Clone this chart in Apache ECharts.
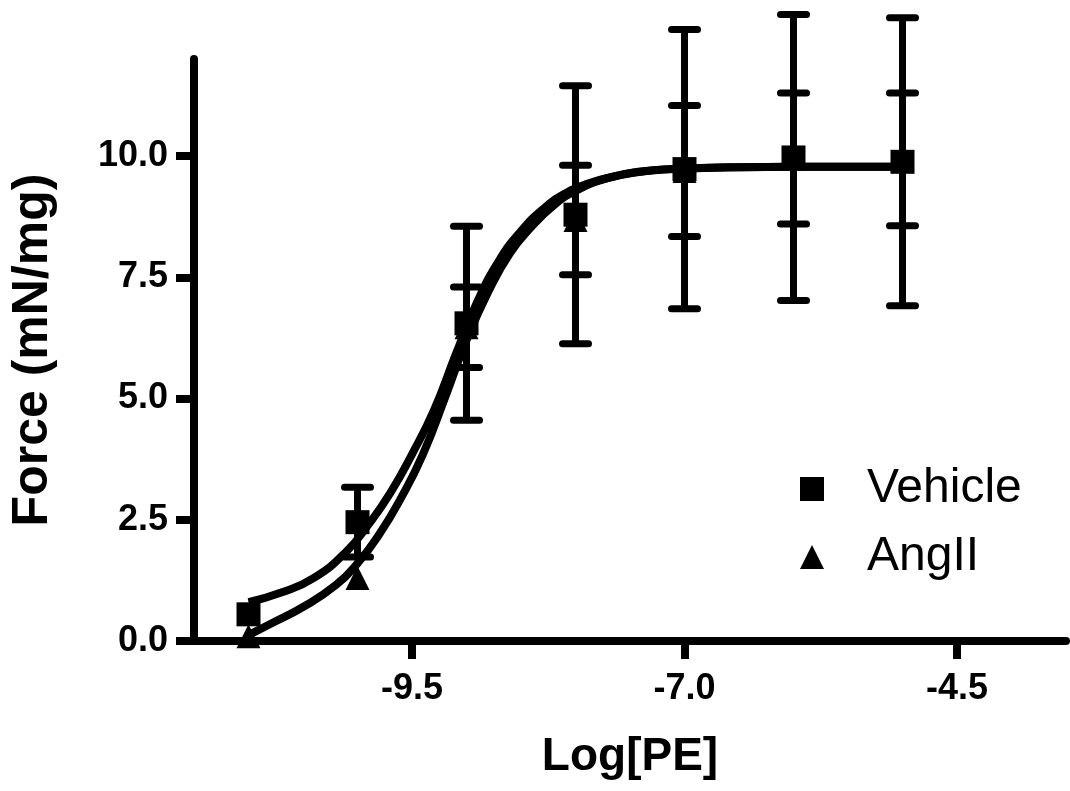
<!DOCTYPE html>
<html><head><meta charset="utf-8">
<script src="https://cdn.jsdelivr.net/npm/echarts@6/dist/echarts.min.js"></script>
<style>html,body{margin:0;padding:0;background:#fff}#c{width:1070px;height:791px}</style>
</head><body><div id="c"></div>
<script>
// Data
const logPE = [-11, -10, -9, -8, -7, -6, -5];
const vehicleMean = [0.55, 2.45, 6.55, 8.79, 9.73, 9.97, 9.88];
const vehicleSEM  = [0.00, 0.72, 2.00, 2.66, 2.88, 2.95, 2.97];
const angMean = [0.10, 1.30, 6.47, 8.68, 9.69, 9.95, 9.93];
const angSEM  = [0.00, 0.00, 0.83, 1.13, 1.35, 1.35, 1.37];
const vehicleFitX = [-11, -10.7, -10.4, -10.1, -9.9, -9.7, -9.5, -9.3, -9.1, -8.9, -8.7, -8.5, -8.3, -8.1, -7.9, -7.6, -7.3, -7.0, -6.5, -6.0, -5.5, -5.0];
const vehicleFitY = [0.80, 1.00, 1.30, 1.85, 2.40, 3.05, 3.85, 4.75, 5.90, 7.00, 7.85, 8.45, 8.90, 9.22, 9.42, 9.60, 9.70, 9.74, 9.77, 9.78, 9.78, 9.78];
const angFitX = [-11, -10.8, -10.5, -10.2, -10.0, -9.8, -9.6, -9.4, -9.2, -9.0, -8.8, -8.6, -8.4, -8.2, -8.0, -7.7, -7.4, -7.0, -6.5, -6.0, -5.5, -5.0];
const angFitY = [0.12, 0.35, 0.70, 1.15, 1.60, 2.20, 2.95, 3.85, 5.00, 6.20, 7.20, 8.00, 8.55, 8.98, 9.28, 9.55, 9.68, 9.74, 9.77, 9.78, 9.78, 9.78];
const xTickValues = [-9.5, -7.0, -4.5];
const yTickValues = [0, 2.5, 5, 7.5, 10];

const zip = (a, b) => a.map((v, i) => [v, b[i]]);
const errData = (m, s) => logPE.map((x, i) => [x, m[i] - s[i], m[i] + s[i]]);

function errRender(params, api) {
  const x = api.value(0), lo = api.value(1), hi = api.value(2);
  if (hi - lo <= 0) return { type: 'group', children: [] };
  const pLo = api.coord([x, lo]), pHi = api.coord([x, hi]);
  const cap = 13;
  const st = { stroke: '#000', lineWidth: 7, lineCap: 'round' };
  return { type: 'group', children: [
    { type: 'line', shape: { x1: pLo[0], y1: pLo[1], x2: pHi[0], y2: pHi[1] }, style: { stroke: '#000', lineWidth: 7 } },
    { type: 'line', shape: { x1: pHi[0] - cap, y1: pHi[1], x2: pHi[0] + cap, y2: pHi[1] }, style: st },
    { type: 'line', shape: { x1: pLo[0] - cap, y1: pLo[1], x2: pLo[0] + cap, y2: pLo[1] }, style: st }
  ]};
}

const FONT = "'Liberation Sans', Arial, sans-serif";
const chart = echarts.init(document.getElementById('c'), null, { renderer: 'canvas' });
chart.setOption({
  animation: false,
  backgroundColor: '#fff',
  grid: { left: 192, right: 4, top: 59, bottom: 150, containLabel: false },
  xAxis: {
    type: 'value', min: -11.5, max: -3.5,
    name: 'Log[PE]', nameLocation: 'middle', nameGap: 93,
    nameTextStyle: { fontFamily: FONT, fontWeight: 'bold', fontSize: 46, color: '#000' },
    axisLine: { show: true, onZero: false, lineStyle: { color: '#000', width: 8 } },
    axisTick: { show: true, length: 18, customValues: xTickValues, lineStyle: { color: '#000', width: 8 } },
    axisLabel: { customValues: xTickValues, margin: 30, fontFamily: FONT, fontWeight: 'bold', fontSize: 36, color: '#000',
      formatter: v => v.toFixed(1) },
    splitLine: { show: false }
  },
  yAxis: {
    type: 'value', min: 0, max: 12,
    name: 'Force (mN/mg)', nameLocation: 'middle', nameGap: 136, nameRotate: 90,
    nameTextStyle: { fontFamily: FONT, fontWeight: 'bold', fontSize: 50, color: '#000' },
    axisLine: { show: true, onZero: false, lineStyle: { color: '#000', width: 8 } },
    axisTick: { show: true, length: 18, customValues: yTickValues, lineStyle: { color: '#000', width: 8 } },
    axisLabel: { customValues: yTickValues, margin: 26, fontFamily: FONT, fontWeight: 'bold', fontSize: 36, color: '#000',
      formatter: v => v.toFixed(1) },
    splitLine: { show: false }
  },
  legend: {
    orient: 'vertical', left: 800, top: 464, padding: 0, itemGap: 18,
    itemWidth: 24, itemHeight: 24,
    data: ['Vehicle', 'AngII'],
    textStyle: { fontFamily: FONT, fontSize: 48, color: '#000', lineHeight: 50, padding: [0, 0, 0, 38] }
  },
  series: [
    { type: 'custom', name: 'errV', renderItem: errRender, data: errData(vehicleMean, vehicleSEM), z: 2, silent: true },
    { type: 'custom', name: 'errA', renderItem: errRender, data: errData(angMean, angSEM), z: 2, silent: true },
    { type: 'line', name: 'fitV', data: zip(vehicleFitX, vehicleFitY), smooth: true, showSymbol: false, symbol: 'none',
      lineStyle: { color: '#000', width: 8 }, z: 3, silent: true },
    { type: 'line', name: 'fitA', data: zip(angFitX, angFitY), smooth: true, showSymbol: false, symbol: 'none',
      lineStyle: { color: '#000', width: 8 }, z: 3, silent: true },
    { type: 'scatter', name: 'AngII', data: zip(logPE, angMean), symbol: 'triangle', symbolSize: 24,
      itemStyle: { color: '#000', opacity: 1 }, z: 4 },
    { type: 'scatter', name: 'Vehicle', data: zip(logPE, vehicleMean), symbol: 'rect', symbolSize: 24,
      itemStyle: { color: '#000', opacity: 1 }, z: 5 }
  ]
});
</script>
</body></html>
